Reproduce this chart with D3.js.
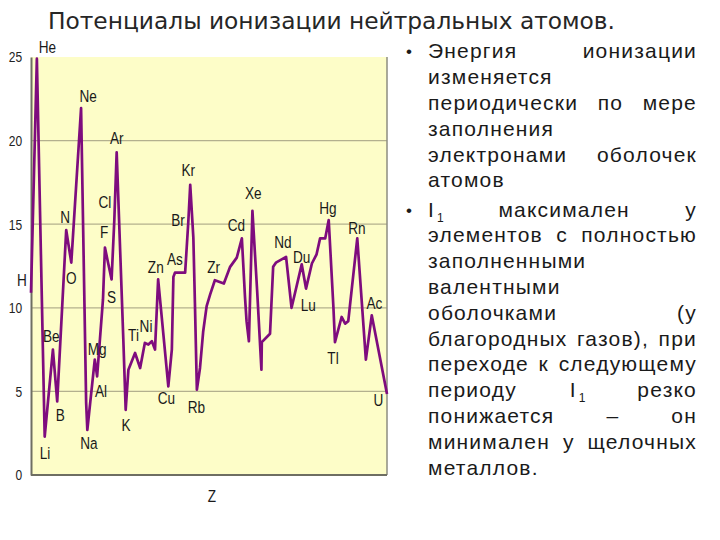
<!DOCTYPE html>
<html><head><meta charset="utf-8">
<script src="https://cdn.jsdelivr.net/npm/d3@7"></script>
<style>body{margin:0;background:#fff}</style>
</head><body>
<svg id="c" width="720" height="540"></svg>
<script>
// ---- data ----
// position of each vertex along the Z axis (axis units, H = 1 ... U = 92) and ionization energy (eV)
const zPos = [1.0, 2.5, 4.5, 6.6, 7.7, 10.0, 11.3, 13.8, 15.1, 15.4, 17.3, 17.9, 19.4, 19.9, 20.7, 21.6, 22.3, 22.9,
  24.6, 25.2, 25.9, 27.6, 28.9, 30.1, 31.0, 31.9, 32.7, 33.5, 36.1, 37.0, 37.4, 37.8, 40.4, 41.2, 41.7, 42.5, 42.9,
  43.4, 44.2, 45.0, 45.9, 46.8, 48.0, 50.3, 51.9, 53.6, 54.9, 55.7, 56.1, 56.7, 57.6, 58.8, 59.9, 60.0, 62.1, 62.9,
  63.6, 66.2, 67.6, 70.2, 71.3, 72.8, 74.0, 74.9, 76.2, 77.1, 78.3, 78.7, 80.4, 81.3, 82.1, 84.4, 86.6, 88.1, 92.0];
const energy = [10.9, 24.9, 2.3, 7.5, 4.4, 14.65, 12.7, 21.95, 4.3, 2.7, 6.9, 5.9, 10.5, 13.6, 12.7, 11.7, 15.25, 19.3,
  8.1, 3.9, 6.3, 7.3, 6.4, 7.9, 7.8, 8.0, 7.5, 11.7, 5.3, 7.5, 11.85, 12.1, 12.1, 15.1, 17.35, 14.2, 10.3,
  5.1, 6.4, 8.55, 10.1, 10.8, 11.65, 11.45, 12.45, 13.0, 14.15, 10.65, 9.2, 8.0, 15.8, 11.05, 6.3, 7.95, 8.45, 12.45,
  12.7, 13.05, 10.0, 12.6, 11.15, 12.65, 13.2, 14.15, 14.15, 15.25, 10.05, 7.95, 9.45, 9.05, 9.2, 14.15, 6.9, 9.55, 4.85];
// element labels: name, position along Z axis, energy level
const labelNames = ["H","He","Li","Be","B","N","O","Ne","Na","Mg","Al","F","Cl","S","Ar","K","Ti","Ni","Zn","Cu","As","Br","Kr",
  "Rb","Zr","Cd","Xe","Nd","Du","Lu","Hg","Tl","Rn","Ac","U"];
const labelZ = [-1.3, 5.2, 4.6, 6.2, 8.5, 9.7, 11.3, 15.6, 15.8, 17.9, 18.9, 19.7, 19.9, 21.6, 22.9, 25.3, 27.2, 30.4, 32.9, 35.6, 37.8, 38.6, 41.2,
  43.3, 47.7, 53.5, 57.8, 65.4, 70.2, 71.9, 76.9, 78.2, 84.3, 88.8, 89.8];
const labelE = [11.65, 25.6, 1.3, 8.3, 3.6, 15.45, 11.8, 22.7, 1.9, 7.55, 5.0, 14.55, 16.35, 10.65, 20.15, 3.0, 8.4, 8.9, 12.45, 4.6, 12.9, 15.25, 18.25,
  4.1, 12.45, 14.95, 16.85, 13.95, 13.05, 10.15, 15.95, 7.0, 14.75, 10.3, 4.5];
const yTicks = [0, 5, 10, 15, 20, 25];
const yGrid = [5, 10, 15, 20];
const xTitle = "Z";
const title = "Потенциалы ионизации нейтральных атомов.";
const para1 = ["Энергия ионизации", "изменяется", "периодически по мере", "заполнения", "электронами оболочек", "атомов"];
const para2 = ["I_1 максимален у", "элементов с полностью", "заполненными", "валентными", "оболочками (у",
  "благородных газов), при", "переходе к следующему", "периоду I_1 резко", "понижается – он", "минимален у щелочных", "металлов."];

// ---- drawing ----
const svg = d3.select("#c");
const x = d3.scaleLinear().domain([1, 92]).range([31, 387]);
const y = d3.scaleLinear().domain([0, 25]).range([475, 57]);
const NARROW = "'Liberation Sans Narrow', 'Arial Narrow', 'Liberation Sans', Arial, sans-serif";

svg.append("rect").attr("x", x(1)).attr("y", y(25)).attr("width", x(92) - x(1)).attr("height", y(0) - y(25))
  .attr("fill", "#fdfdc8");
svg.append("g").selectAll("line").data(yGrid).join("line")
  .attr("x1", x(1)).attr("x2", x(92)).attr("y1", d => y(d)).attr("y2", d => y(d))
  .attr("stroke", "#b3b08e").attr("stroke-width", 1.3);
// frame
svg.append("line").attr("x1", x(92)).attr("x2", x(92)).attr("y1", y(25)).attr("y2", y(0)).attr("stroke", "#8c8c80").attr("stroke-width", 1.5);
svg.append("line").attr("x1", x(1)).attr("x2", x(92)).attr("y1", y(0)).attr("y2", y(0)).attr("stroke", "#6e6e62").attr("stroke-width", 2);

const yAxis = d3.axisLeft(y).tickValues(yTicks).tickSize(0).tickPadding(11);
const ga = svg.append("g").attr("transform", `translate(${x(1)},0)`).call(yAxis);
ga.select(".domain").attr("stroke", "#6e6e62").attr("stroke-width", 2);
ga.selectAll("text").attr("font-family", NARROW).attr("font-size", 15).attr("fill", "#222")
  .attr("transform", "scale(0.8,1)");

const pts = zPos.map((z, i) => [z, energy[i]]);
svg.append("path").datum(pts)
  .attr("d", d3.line().x(d => x(d[0])).y(d => y(d[1])))
  .attr("fill", "none").attr("stroke", "#7e0c7e").attr("stroke-width", 2.7).attr("stroke-linejoin", "round");

svg.append("g").selectAll("text").data(labelNames).join("text")
  .attr("transform", (d, i) => `translate(${x(labelZ[i])},${y(labelE[i])}) scale(0.8,1)`)
  .attr("text-anchor", "middle").attr("dominant-baseline", "central")
  .attr("font-family", NARROW).attr("font-size", 17)
  .attr("fill", "#1a1a1a").text(d => d);

svg.append("text").attr("transform", "translate(212,496) scale(0.8,1)").attr("text-anchor", "middle").attr("dominant-baseline", "central")
  .attr("font-family", NARROW).attr("font-size", 17).attr("fill", "#1a1a1a").text(xTitle);

svg.append("text").attr("x", 48).attr("y", 29).attr("font-family", "'DejaVu Sans', sans-serif").attr("font-size", 23)
  .attr("textLength", 567).attr("lengthAdjust", "spacingAndGlyphs")
  .attr("fill", "#262626").text(title);

// right-hand bullet text, justified
const FS = 21, LEFT = 428, RIGHT = 697, LH = 25.8;
const tg = svg.append("g").attr("font-family", "'Liberation Sans', Arial, sans-serif").attr("font-size", FS)
  .attr("fill", "#1a1a1a").attr("letter-spacing", 1.2);
function word(w, yy) {
  const t = tg.append("text").attr("y", yy);
  if (w.includes("_")) {
    const [a, b] = w.split("_");
    t.append("tspan").text(a);
    t.append("tspan").attr("font-size", 12).attr("dx", 2).attr("dy", 5).text(b);
  } else t.text(w);
  return t;
}
function para(lines, y0) {
  lines.forEach((ln, li) => {
    const yy = y0 + li * LH;
    const ws = ln.split(" ").map(w => word(w, yy));
    const widths = ws.map(t => t.node().getComputedTextLength());
    const last = li === lines.length - 1;
    if (last || ws.length === 1) {
      let xx = LEFT;
      ws.forEach((t, i) => { t.attr("x", xx); xx += widths[i] + FS * 0.28; });
    } else {
      const gap = (RIGHT - LEFT - d3.sum(widths)) / (ws.length - 1);
      let xx = LEFT;
      ws.forEach((t, i) => { t.attr("x", xx); xx += widths[i] + gap; });
    }
  });
  tg.append("text").attr("x", 406).attr("y", y0 - 1).attr("font-size", 17).text("•");
}
para(para1, 58.3);
para(para2, 216.5);
</script>
</body></html>
